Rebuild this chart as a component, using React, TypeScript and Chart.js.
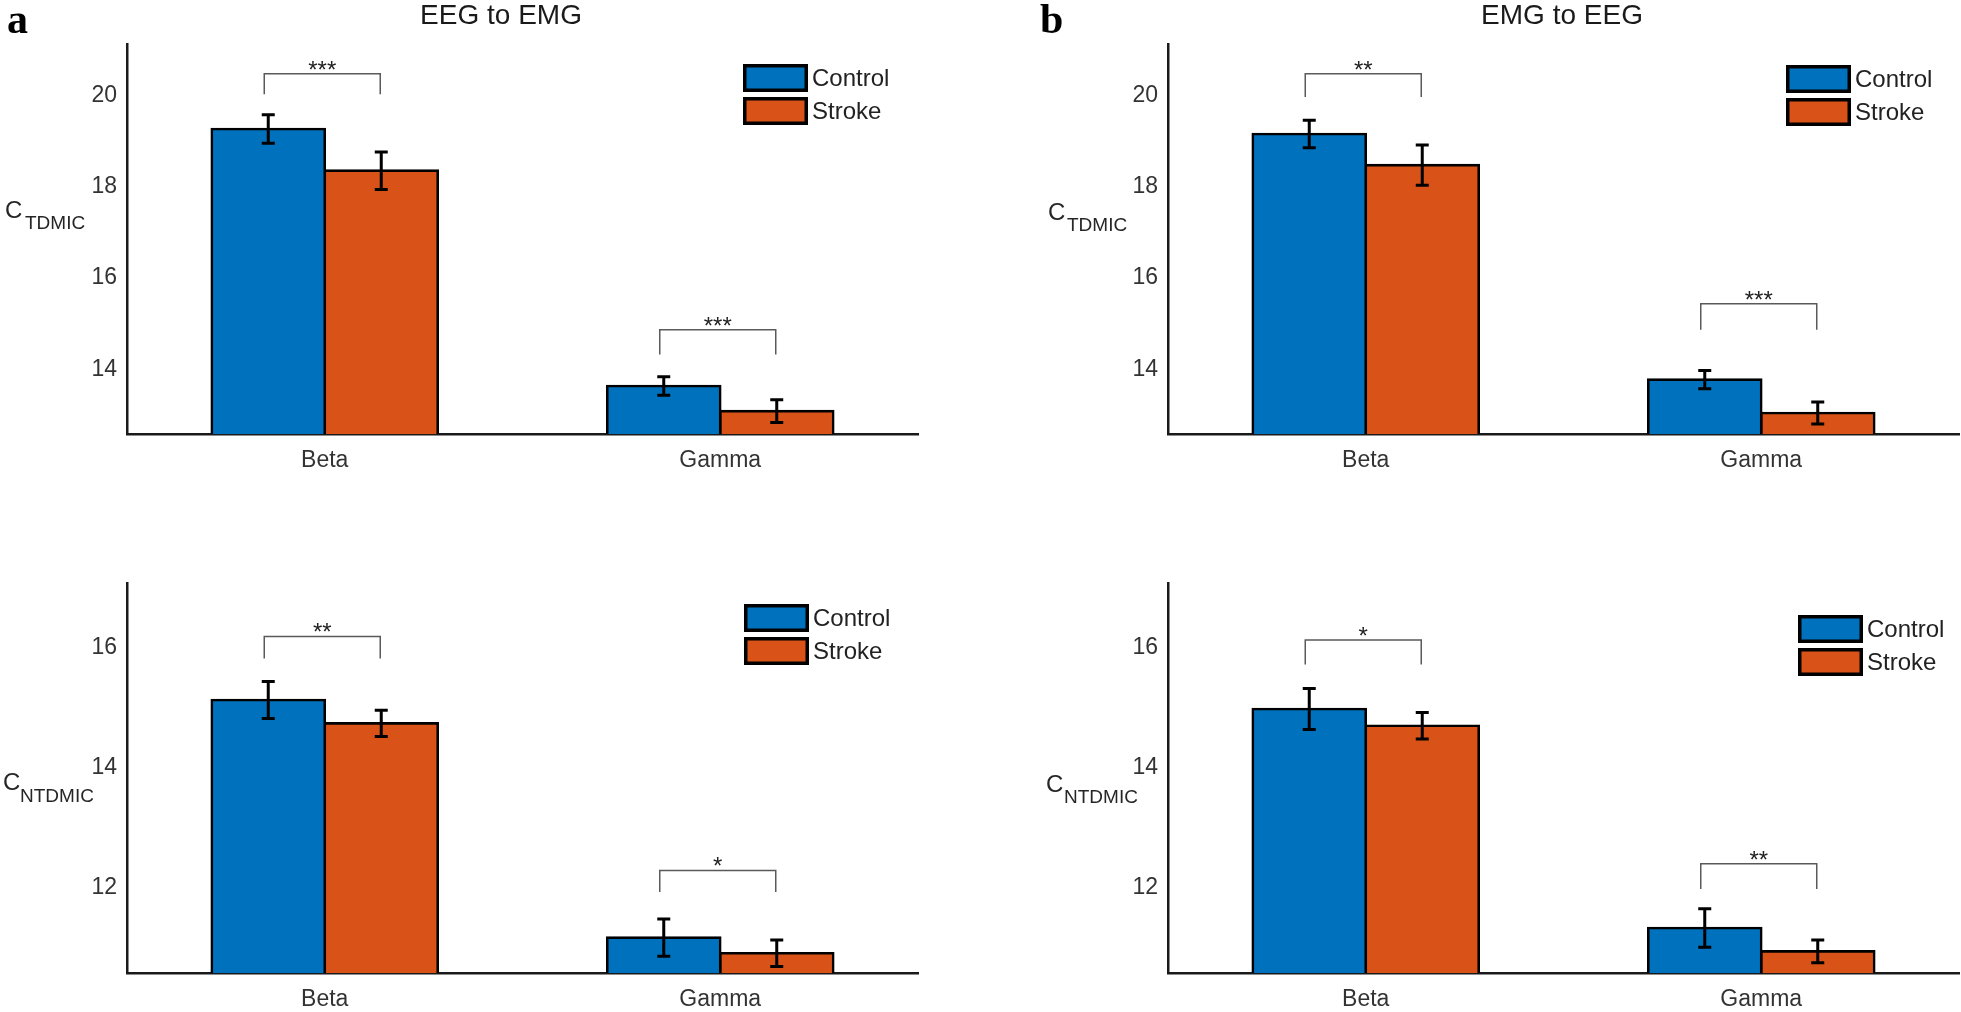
import React, { useEffect, useRef } from 'react';
import { Chart, registerables } from 'chart.js';

Chart.register(...registerables);

// ---------- data ----------
const categories = ['Beta', 'Gamma'];
const seriesNames = ['Control', 'Stroke'];

// (a) EEG to EMG, C_TDMIC
const eegEmgTdmicControl = [19.26, 13.64];
const eegEmgTdmicStroke = [18.35, 13.09];
const eegEmgTdmicControlErr = [0.31, 0.2];
const eegEmgTdmicStrokeErr = [0.41, 0.25];
const eegEmgTdmicSig = ['***', '***'];
const eegEmgTdmicBracketTop = [20.47, 14.87];
const eegEmgTdmicBracketLeg = [20.02, 14.33];

// (b) EMG to EEG, C_TDMIC
const emgEegTdmicControl = [19.15, 13.78];
const emgEegTdmicStroke = [18.47, 13.05];
const emgEegTdmicControlErr = [0.3, 0.2];
const emgEegTdmicStrokeErr = [0.44, 0.24];
const emgEegTdmicSig = ['**', '***'];
const emgEegTdmicBracketTop = [20.47, 15.44];
const emgEegTdmicBracketLeg = [19.96, 14.87];

// (a) EEG to EMG, C_NTDMIC
const eegEmgNtdmicControl = [15.12, 11.16];
const eegEmgNtdmicStroke = [14.73, 10.9];
const eegEmgNtdmicControlErr = [0.31, 0.31];
const eegEmgNtdmicStrokeErr = [0.22, 0.22];
const eegEmgNtdmicSig = ['**', '*'];
const eegEmgNtdmicBracketTop = [16.18, 12.28];
const eegEmgNtdmicBracketLeg = [15.81, 11.92];

// (b) EMG to EEG, C_NTDMIC
const emgEegNtdmicControl = [14.97, 11.32];
const emgEegNtdmicStroke = [14.69, 10.93];
const emgEegNtdmicControlErr = [0.34, 0.32];
const emgEegNtdmicStrokeErr = [0.22, 0.19];
const emgEegNtdmicSig = ['*', '**'];
const emgEegNtdmicBracketTop = [16.12, 12.39];
const emgEegNtdmicBracketLeg = [15.71, 11.97];

const tdmicTicks = [14, 16, 18, 20];
const ntdmicTicks = [12, 14, 16];
const tdmicRange = [12.59, 21.12];
const ntdmicRange = [10.57, 17.07];

const titles = ['EEG to EMG', 'EMG to EEG'];
const letters = ['a', 'b'];
const yLabelMain = 'C';
const yLabelSubs = ['TDMIC', 'NTDMIC'];

// ---------- styling ----------
const BLUE = '#0072BD';
const ORANGE = '#D95319';
const SANS = '"Liberation Sans", Arial, Helvetica, sans-serif';
const SERIF = '"Liberation Serif", "Times New Roman", serif';
const BAR_EDGE = 2.6;

type Spec = {
  key: string;
  left: number; top: number; width: number; height: number;
  area: { left: number; top: number; right: number; bottom: number };
  control: number[]; stroke: number[];
  controlErr: number[]; strokeErr: number[];
  sig: string[]; bracketTop: number[]; bracketLeg: number[];
  ticks: number[]; range: number[];
  ySub: string;
  yC: { x: number; y: number }; ySubPos: { x: number; y: number };
  legend: { x: number; y: number; gap: number };
  title?: string; titleX?: number;
  letter?: string; letterX?: number;
};

const specs: Spec[] = [
  {
    key: 'aTop', left: 0, top: 0, width: 980, height: 506,
    area: { left: 127, top: 44, right: 918, bottom: 434 },
    control: eegEmgTdmicControl, stroke: eegEmgTdmicStroke,
    controlErr: eegEmgTdmicControlErr, strokeErr: eegEmgTdmicStrokeErr,
    sig: eegEmgTdmicSig, bracketTop: eegEmgTdmicBracketTop, bracketLeg: eegEmgTdmicBracketLeg,
    ticks: tdmicTicks, range: tdmicRange, ySub: yLabelSubs[0],
    yC: { x: 5, y: 218 }, ySubPos: { x: 25, y: 229 },
    legend: { x: 743, y: 64, gap: 33 },
    title: titles[0], titleX: 501, letter: letters[0], letterX: 7,
  },
  {
    key: 'bTop', left: 1000, top: 0, width: 961, height: 506,
    area: { left: 168, top: 44, right: 959, bottom: 434 },
    control: emgEegTdmicControl, stroke: emgEegTdmicStroke,
    controlErr: emgEegTdmicControlErr, strokeErr: emgEegTdmicStrokeErr,
    sig: emgEegTdmicSig, bracketTop: emgEegTdmicBracketTop, bracketLeg: emgEegTdmicBracketLeg,
    ticks: tdmicTicks, range: tdmicRange, ySub: yLabelSubs[0],
    yC: { x: 48, y: 220 }, ySubPos: { x: 67, y: 231 },
    legend: { x: 786, y: 65, gap: 33 },
    title: titles[1], titleX: 562, letter: letters[1], letterX: 40,
  },
  {
    key: 'aBot', left: 0, top: 506, width: 980, height: 506,
    area: { left: 127, top: 77, right: 918, bottom: 467 },
    control: eegEmgNtdmicControl, stroke: eegEmgNtdmicStroke,
    controlErr: eegEmgNtdmicControlErr, strokeErr: eegEmgNtdmicStrokeErr,
    sig: eegEmgNtdmicSig, bracketTop: eegEmgNtdmicBracketTop, bracketLeg: eegEmgNtdmicBracketLeg,
    ticks: ntdmicTicks, range: ntdmicRange, ySub: yLabelSubs[1],
    yC: { x: 3, y: 284 }, ySubPos: { x: 20, y: 296 },
    legend: { x: 744, y: 98, gap: 33 },
  },
  {
    key: 'bBot', left: 1000, top: 506, width: 961, height: 506,
    area: { left: 168, top: 77, right: 959, bottom: 467 },
    control: emgEegNtdmicControl, stroke: emgEegNtdmicStroke,
    controlErr: emgEegNtdmicControlErr, strokeErr: emgEegNtdmicStrokeErr,
    sig: emgEegNtdmicSig, bracketTop: emgEegNtdmicBracketTop, bracketLeg: emgEegNtdmicBracketLeg,
    ticks: ntdmicTicks, range: ntdmicRange, ySub: yLabelSubs[1],
    yC: { x: 46, y: 286 }, ySubPos: { x: 64, y: 297 },
    legend: { x: 798, y: 109, gap: 33 },
  },
];

function makeDecor(s: Spec) {
  return {
    id: 'decor_' + s.key,
    afterDatasetsDraw(chart: any) {
      const ctx: CanvasRenderingContext2D = chart.ctx;
      const ys = chart.scales.y;
      const vals = [s.control, s.stroke];
      const errs = [s.controlErr, s.strokeErr];
      ctx.save();
      // error bars
      ctx.strokeStyle = '#000';
      ctx.lineWidth = 3;
      ctx.lineCap = 'butt';
      for (let d = 0; d < 2; d++) {
        const meta = chart.getDatasetMeta(d);
        meta.data.forEach((bar: any, i: number) => {
          const v = vals[d][i];
          const e = errs[d][i];
          const x = bar.x;
          const yt = ys.getPixelForValue(v + e);
          const yb = ys.getPixelForValue(v - e);
          ctx.beginPath();
          ctx.moveTo(x, yt); ctx.lineTo(x, yb);
          ctx.moveTo(x - 6.5, yt); ctx.lineTo(x + 6.5, yt);
          ctx.moveTo(x - 6.5, yb); ctx.lineTo(x + 6.5, yb);
          ctx.stroke();
        });
      }
      // significance brackets
      const m0 = chart.getDatasetMeta(0);
      const m1 = chart.getDatasetMeta(1);
      for (let i = 0; i < categories.length; i++) {
        const x1 = m0.data[i].x - 4;
        const x2 = m1.data[i].x - 1;
        const yt = ys.getPixelForValue(s.bracketTop[i]);
        const yl = ys.getPixelForValue(s.bracketLeg[i]);
        ctx.strokeStyle = '#5a5a5a';
        ctx.lineWidth = 1.5;
        ctx.beginPath();
        ctx.moveTo(x1, yl); ctx.lineTo(x1, yt); ctx.lineTo(x2, yt); ctx.lineTo(x2, yl);
        ctx.stroke();
        ctx.fillStyle = '#222';
        ctx.font = `24px ${SANS}`;
        ctx.textAlign = 'center';
        ctx.textBaseline = 'alphabetic';
        ctx.fillText(s.sig[i], (x1 + x2) / 2, yt + 4);
      }
      ctx.restore();
    },
    afterDraw(chart: any) {
      const ctx: CanvasRenderingContext2D = chart.ctx;
      ctx.save();
      // legend
      const colors = [BLUE, ORANGE];
      for (let k = 0; k < 2; k++) {
        const px = s.legend.x;
        const py = s.legend.y + k * s.legend.gap;
        const w = 65, h = 28;
        ctx.fillStyle = colors[k];
        ctx.fillRect(px, py, w, h);
        ctx.strokeStyle = '#000';
        ctx.lineWidth = 3.5;
        ctx.strokeRect(px + 1.75, py + 1.75, w - 3.5, h - 3.5);
        ctx.fillStyle = '#222';
        ctx.font = `24px ${SANS}`;
        ctx.textAlign = 'left';
        ctx.textBaseline = 'middle';
        ctx.fillText(seriesNames[k], px + w + 4, py + h / 2 + 1);
      }
      // y label with subscript
      ctx.fillStyle = '#262626';
      ctx.textAlign = 'left';
      ctx.textBaseline = 'alphabetic';
      ctx.font = `24px ${SANS}`;
      ctx.fillText(yLabelMain, s.yC.x, s.yC.y);
      ctx.font = `19px ${SANS}`;
      ctx.fillText(s.ySub, s.ySubPos.x, s.ySubPos.y);
      // title
      if (s.title) {
        ctx.fillStyle = '#1a1a1a';
        ctx.font = `28px ${SANS}`;
        ctx.textAlign = 'center';
        ctx.fillText(s.title, s.titleX as number, 24);
      }
      // panel letter
      if (s.letter) {
        ctx.fillStyle = '#000';
        ctx.font = `bold 42px ${SERIF}`;
        ctx.textAlign = 'left';
        ctx.fillText(s.letter, s.letterX as number, 33);
      }
      ctx.restore();
    },
  };
}

function Panel({ s }: { s: Spec }) {
  const ref = useRef<HTMLCanvasElement | null>(null);
  useEffect(() => {
    if (!ref.current) return;
    const chart = new Chart(ref.current, {
      type: 'bar',
      data: {
        labels: categories,
        datasets: [
          {
            label: seriesNames[0], data: s.control, backgroundColor: BLUE,
            borderColor: '#000', borderWidth: BAR_EDGE, borderSkipped: false, inflateAmount: BAR_EDGE / 2,
          },
          {
            label: seriesNames[1], data: s.stroke, backgroundColor: ORANGE,
            borderColor: '#000', borderWidth: BAR_EDGE, borderSkipped: false, inflateAmount: BAR_EDGE / 2,
          },
        ],
      },
      options: {
        responsive: false,
        animation: false,
        layout: { padding: { left: 0, top: s.area.top, right: s.width - s.area.right, bottom: 0 } },
        datasets: { bar: { categoryPercentage: 0.5714, barPercentage: 1 } },
        plugins: { legend: { display: false }, tooltip: { enabled: false }, title: { display: false } },
        scales: {
          x: {
            type: 'category',
            offset: true,
            grid: { display: false, drawTicks: false },
            border: { display: true, color: '#1a1a1a', width: 2.5 },
            ticks: { color: '#333', font: { family: SANS, size: 23 }, padding: 13, maxRotation: 0 },
            afterFit: (sc: any) => { sc.height = s.height - s.area.bottom; },
          },
          y: {
            type: 'linear',
            min: s.range[0],
            max: s.range[1],
            grid: { display: false, drawTicks: false },
            border: { display: true, color: '#1a1a1a', width: 2.5 },
            ticks: { color: '#333', font: { family: SANS, size: 23 }, padding: 10 },
            afterBuildTicks: (sc: any) => { sc.ticks = s.ticks.map((v) => ({ value: v })); },
            afterFit: (sc: any) => { sc.width = s.area.left; },
          },
        },
      } as any,
      plugins: [makeDecor(s)],
    });
    return () => chart.destroy();
  }, [s]);
  return (
    <canvas
      ref={ref}
      width={s.width}
      height={s.height}
      style={{ position: 'absolute', left: s.left, top: s.top, width: s.width, height: s.height }}
    />
  );
}

export default function App() {
  return (
    <div style={{ position: 'absolute', left: 0, top: 0, width: 1961, height: 1012, background: '#fff', overflow: 'hidden' }}>
      {specs.map((s) => (
        <Panel key={s.key} s={s} />
      ))}
    </div>
  );
}
